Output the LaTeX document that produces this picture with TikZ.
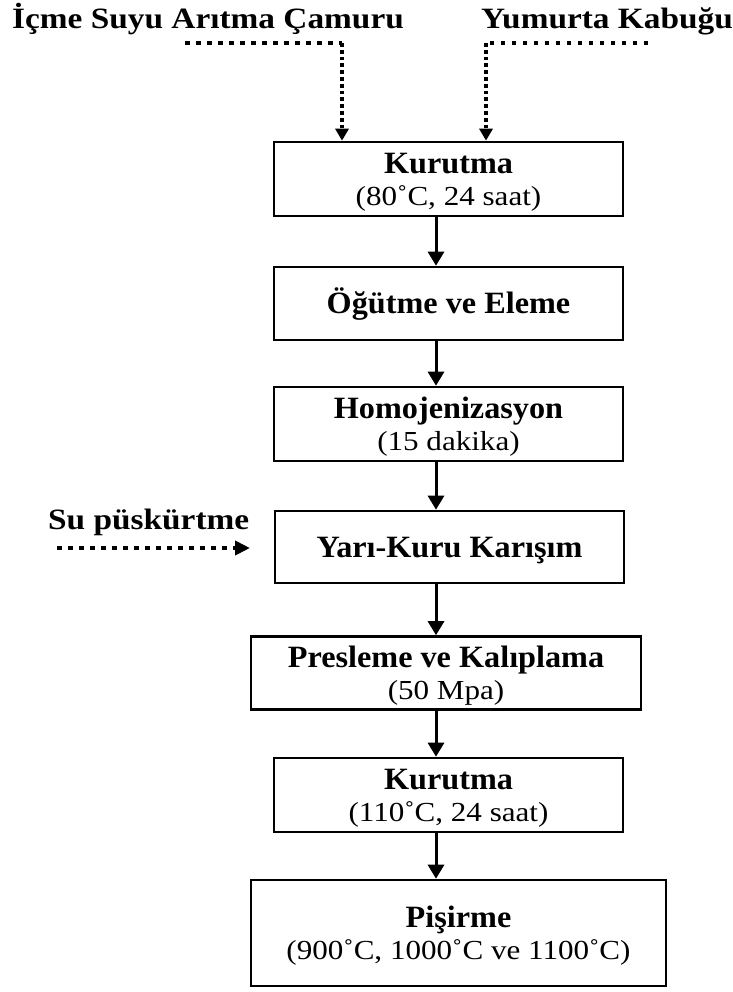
\documentclass[tikz,border=0pt]{standalone}
\usepackage{fontspec}
\setmainfont{Liberation Serif}
\usetikzlibrary{arrows.meta}
\newcommand\ttlt[1]{\scalebox{1.13}[1]{\fontsize{29.5}{29.5}\selectfont\bfseries #1}}
\newcommand\bxb[1]{\scalebox{1.04}[1]{\fontsize{31}{31}\selectfont\bfseries\rule{0pt}{27pt}#1}}
\newcommand\bxr[1]{\scalebox{1.13}[1]{\fontsize{27.5}{27.5}\selectfont #1}}
\tikzset{
  stepbox/.style={draw, line width=2.6pt, inner sep=0pt, align=center,
    font=\fontsize{24}{32.5}\selectfont},
  ttl/.style={anchor=base west, inner sep=0pt},
  arr/.style={line width=3pt, -{Triangle[length=14pt,width=16pt]}},
  hdot/.style={line width=4pt, dash pattern=on 4.5pt off 6.5pt},
  vdot/.style={line width=4.2pt, dash pattern=on 3.8pt off 3pt},
  dtip/.style={-{Triangle[length=12pt,width=13pt]}},
}
\begin{document}
\begin{tikzpicture}[x=1pt,y=-1pt]
\useasboundingbox (0,0) rectangle (732,992);
% titles
\node[ttl] (t1) at (12,29) {\ttlt{İçme Suyu Arıtma Çamuru}};
\node[ttl] (t2) at (481,29) {\ttlt{Yumurta Kabuğu}};
\node[ttl] (t3) at (48,529) {\ttlt{Su püskürtme}};
% boxes
\node[stepbox, minimum width=349pt, minimum height=74pt] (b1) at (448.5,179) {\bxb{Kurutma}\\\bxr{(80˚C, 24 saat)}};
\node[stepbox, minimum width=349pt, minimum height=73pt] (b2) at (448.5,303.5) {\bxb{Öğütme ve Eleme}};
\node[stepbox, minimum width=349pt, minimum height=74pt] (b3) at (448.5,424) {\bxb{Homojenizasyon}\\\bxr{(15 dakika)}};
\node[stepbox, minimum width=349pt, minimum height=72pt] (b4) at (449.5,547) {\bxb{Yarı-Kuru Karışım}};
\node[stepbox, minimum width=390pt, minimum height=73pt] (b5) at (446,673) {\bxb{Presleme ve Kalıplama}\\\bxr{(50 Mpa)}};
\node[stepbox, minimum width=349pt, minimum height=74pt] (b6) at (448.5,795) {\bxb{Kurutma}\\\bxr{(110˚C, 24 saat)}};
\node[stepbox, minimum width=415pt, minimum height=106pt] (b7) at (458.5,933) {\bxb{Pişirme}\\\bxr{(900˚C, 1000˚C ve 1100˚C)}};
% solid arrows
\coordinate (ax) at (436,0);
\draw[arr] (b1.south -| ax) -- (b2.north -| ax);
\draw[arr] (b2.south -| ax) -- (b3.north -| ax);
\draw[arr] (b3.south -| ax) -- (b4.north -| ax);
\draw[arr] (b4.south -| ax) -- (b5.north -| ax);
\draw[arr] (b5.south -| ax) -- (b6.north -| ax);
\draw[arr] (b6.south -| ax) -- (b7.north -| ax);
% dotted inputs
\coordinate (sL) at (185,43);
\coordinate (cL) at (342,43);
\coordinate (sR) at (648,43);
\coordinate (cR) at (486,43);
\draw[hdot] (sL) -- (cL);
\draw[vdot, dtip] (cL) -- (b1.north -| cL);
\draw[hdot] (sR) -- (cR);
\draw[vdot, dtip] (cR) -- (b1.north -| cR);
\coordinate (sS) at (57,548);
\coordinate (eS) at (250,548);
\draw[hdot, -{Triangle[length=15pt,width=14pt]}] (sS) -- (eS);
\end{tikzpicture}
\end{document}
